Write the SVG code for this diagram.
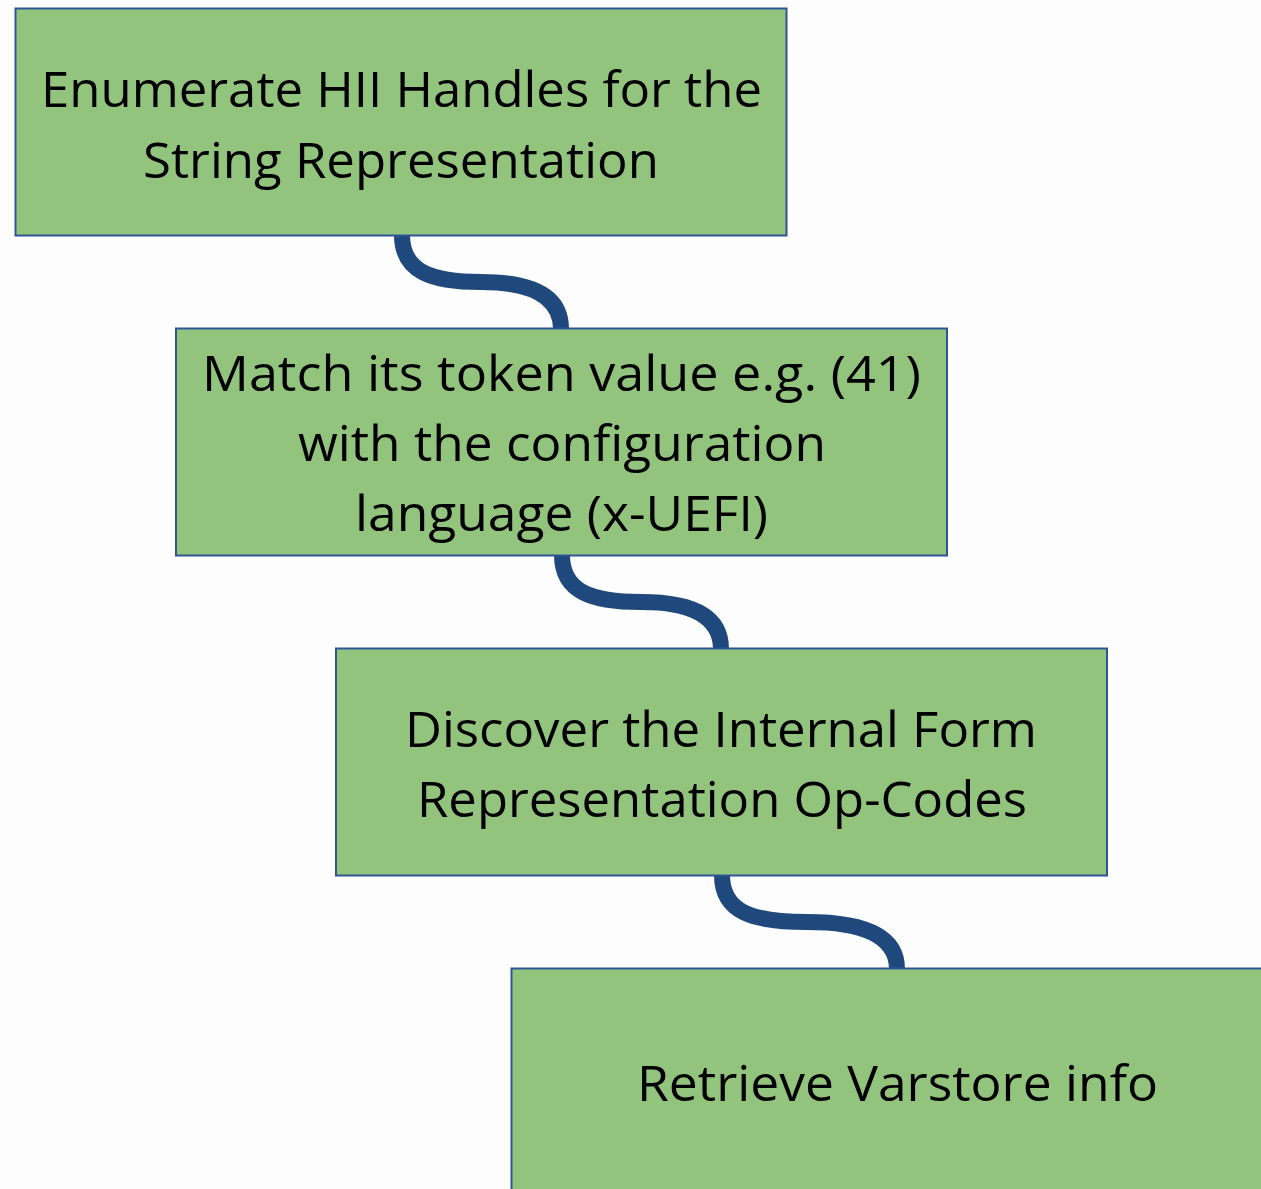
<svg xmlns="http://www.w3.org/2000/svg" width="1261" height="1189" viewBox="0 0 1261 1189">
<style>
.box{fill:#93C47D;stroke:#2F5597;stroke-width:2}
.lbl{font-family:"Open Sans","Noto Sans","DejaVu Sans",sans-serif;font-size:50px;fill:#000;text-anchor:middle}
.conn{fill:none;stroke:#1F497D;stroke-width:16}
</style>
<rect width="1261" height="1189" fill="#FDFDFD"/>
<g id="connectors">
<path class="conn" d="M402,235 C402,272 432,282 481,282 C530,282 561,295 561,329"/>
<path class="conn" d="M562,555 C562,592 592,602 641,602 C690,602 721,615 721,649"/>
<path class="conn" d="M722,875 C722,912 752,922 807,922 C862,922 897,935 897,969"/>
</g>
<g id="node1">
<rect class="box" x="15.5" y="8.5" width="771" height="227"/>
<text class="lbl" x="401.5" y="107" textLength="721" lengthAdjust="spacingAndGlyphs">Enumerate HII Handles for the</text>
<text class="lbl" x="401" y="178" textLength="516" lengthAdjust="spacingAndGlyphs">String Representation</text>
</g>
<g id="node2">
<rect class="box" x="176" y="328.5" width="771" height="227"/>
<text class="lbl" x="561.5" y="391" textLength="719" lengthAdjust="spacingAndGlyphs">Match its token value e.g. (41)</text>
<text class="lbl" x="562" y="461" textLength="528" lengthAdjust="spacingAndGlyphs">with the configuration</text>
<text class="lbl" x="561.5" y="531" textLength="413" lengthAdjust="spacingAndGlyphs">language (x-UEFI)</text>
</g>
<g id="node3">
<rect class="box" x="336" y="648.5" width="771" height="227"/>
<text class="lbl" x="721" y="747" textLength="632" lengthAdjust="spacingAndGlyphs">Discover the Internal Form</text>
<text class="lbl" x="722" y="817" textLength="610" lengthAdjust="spacingAndGlyphs">Representation Op-Codes</text>
</g>
<g id="node4">
<rect class="box" x="511.5" y="968.5" width="771" height="227"/>
<text class="lbl" x="897.5" y="1101" textLength="521" lengthAdjust="spacingAndGlyphs">Retrieve Varstore info</text>
</g>
</svg>
